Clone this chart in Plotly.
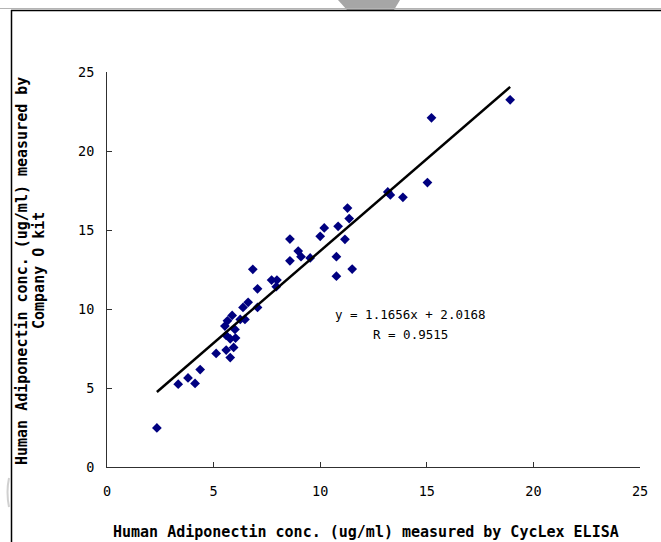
import plotly.graph_objects as go

# Data
cyclex_x = [2.34, 3.34, 3.80, 4.13, 4.37, 5.12, 5.53, 5.59, 5.59, 5.65,
            5.78, 5.78, 5.87, 5.94, 6.00, 6.03, 6.25, 6.38, 6.47, 6.62,
            6.84, 7.06, 7.06, 7.72, 7.94, 7.97, 8.58, 8.58, 8.97, 9.10,
            9.53, 10.00, 10.19, 10.76, 10.76, 10.84, 11.16, 11.28, 11.36, 11.50,
            13.17, 13.29, 13.88, 15.03, 15.22, 18.91]
company_o_y = [2.47, 5.24, 5.64, 5.29, 6.17, 7.19, 8.92, 8.33, 7.40, 9.25,
               8.11, 6.93, 9.59, 7.57, 8.71, 8.16, 9.34, 10.10, 9.34, 10.42,
               12.51, 11.28, 10.10, 11.83, 11.41, 11.83, 14.43, 13.05, 13.67, 13.31,
               13.23, 14.60, 15.13, 13.31, 12.08, 15.23, 14.41, 16.39, 15.72, 12.53,
               17.41, 17.22, 17.07, 18.00, 22.10, 23.24]
slope = 1.1656
intercept = 2.0168
r_value = 0.9515
tick_vals = [0, 5, 10, 15, 20, 25]

x_title = "Human Adiponectin conc. (ug/ml) measured by CycLex ELISA"
y_title_1 = "Human Adiponectin conc. (ug/ml) measured by"
y_title_2 = "Company O kit"

# Layout geometry (pixels)
W, H = 661, 542
L, R, T, B = 107, 21, 72, 75
PW, PH = W - L - R, H - T - B


def px(xp):
    return (xp - L) / PW


def py(yp):
    return (H - B - yp) / PH


FONT = "DejaVu Sans Mono"

x_min, x_max = min(cyclex_x), max(cyclex_x)
fit_x = [x_min, x_max]
fit_y = [slope * v + intercept for v in fit_x]

fig = go.Figure()
fig.add_trace(go.Scatter(
    x=cyclex_x, y=company_o_y, mode="markers",
    marker=dict(symbol="diamond", size=7.5, color="#000080", line=dict(width=0)),
    showlegend=False, cliponaxis=False,
))
fig.add_trace(go.Scatter(
    x=fit_x, y=fit_y, mode="lines",
    line=dict(color="black", width=2.5),
    showlegend=False, cliponaxis=False,
))

axis_common = dict(
    range=[0, 25], tickvals=tick_vals, ticks="inside", ticklen=5,
    tickcolor="#303030", showline=True, linecolor="#303030", linewidth=1,
    showgrid=False, zeroline=False,
    tickfont=dict(family=FONT, size=13.5, color="black"),
)

fig.update_layout(
    width=W, height=H,
    margin=dict(l=L, r=R, t=T, b=B),
    paper_bgcolor="white", plot_bgcolor="white",
    xaxis=dict(**axis_common, ticklabelstandoff=12),
    yaxis=dict(**axis_common, ticklabelstandoff=9),
    font=dict(family=FONT, color="black"),
    hovermode=False,
)

annotations = [
    dict(text=x_title, x=px(366), y=py(532), xref="paper", yref="paper",
         showarrow=False, font=dict(family=FONT, size=15, color="black", weight="bold"),
         xanchor="center", yanchor="middle"),
    dict(text=y_title_1, x=px(22), y=py(271), xref="paper", yref="paper",
         showarrow=False, textangle=-90,
         font=dict(family=FONT, size=15, color="black", weight="bold"),
         xanchor="center", yanchor="middle"),
    dict(text=y_title_2, x=px(39), y=py(271), xref="paper", yref="paper",
         showarrow=False, textangle=-90,
         font=dict(family=FONT, size=15, color="black", weight="bold"),
         xanchor="center", yanchor="middle"),
    dict(text=f"y = {slope:.4f}x + {intercept:.4f}", x=px(410), y=py(314),
         xref="paper", yref="paper", showarrow=False,
         font=dict(family=FONT, size=12.5, color="black"),
         xanchor="center", yanchor="middle"),
    dict(text=f"R = {r_value:.4f}", x=px(410), y=py(334),
         xref="paper", yref="paper", showarrow=False,
         font=dict(family=FONT, size=12.5, color="black"),
         xanchor="center", yanchor="middle"),
]
fig.update_layout(annotations=annotations)

shapes = [
    # gray trapezoid at top centre
    dict(type="path", xref="paper", yref="paper",
         path=f"M {px(338)} {py(0)} L {px(400)} {py(0)} L {px(394)} {py(10)} L {px(347)} {py(10)} Z",
         fillcolor="#a6a6a6", line=dict(width=0), layer="above"),
    # thin gray line above frame
    dict(type="line", xref="paper", yref="paper",
         x0=px(0), x1=px(W), y0=py(8.5), y1=py(8.5),
         line=dict(color="#b4b4b4", width=1)),
    # frame top line
    dict(type="line", xref="paper", yref="paper",
         x0=px(11), x1=px(W + 5), y0=py(10.5), y1=py(10.5),
         line=dict(color="black", width=1.5)),
    # frame left line
    dict(type="line", xref="paper", yref="paper",
         x0=px(11.5), x1=px(11.5), y0=py(10), y1=py(H + 5),
         line=dict(color="black", width=1.5)),
    # faint gray arc at left edge
    dict(type="path", xref="paper", yref="paper",
         path=f"M {px(9)} {py(478)} Q {px(6)} {py(492)} {px(9)} {py(507)}",
         line=dict(color="#d0d0d0", width=2)),
]
fig.update_layout(shapes=shapes)

fig.write_html(
    "out.html",
    config={"displayModeBar": False},
    post_script="document.body.style.margin='0';document.body.style.overflow='hidden';",
)
